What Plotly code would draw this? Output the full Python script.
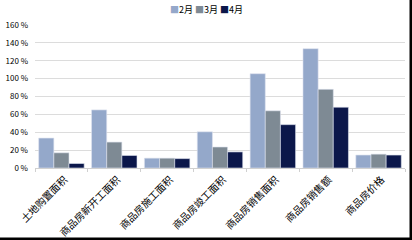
import plotly.graph_objects as go

categories = ["土地购置面积", "商品房新开工面积", "商品房施工面积", "商品房竣工面积",
              "商品房销售面积", "商品房销售额", "商品房价格"]
feb = [33.5, 65, 11, 40.5, 105.5, 133.5, 14.5]
mar = [17, 29, 11, 23.5, 64, 88, 15.5]
apr = [5, 14, 10.5, 18, 48.5, 68, 14.5]
series_names = ["2月", "3月", "4月"]
colors = ["#94A8CA", "#7E8A94", "#0B174A"]
ytick_vals = [0, 20, 40, 60, 80, 100, 120, 140, 160]
ytick_text = [f"{v} %" for v in ytick_vals]

fig = go.Figure()
for name, vals, c in zip(series_names, [feb, mar, apr], colors):
    fig.add_trace(go.Bar(x=categories, y=vals, name=name,
                         marker=dict(color=c, line=dict(color="#DDE3EE", width=0.6))))

W, H = 412, 240
L, R, T, B = 35, 7, 25, 72
pw, ph = W - L - R, H - T - B

fig.update_layout(
    width=W, height=H,
    margin=dict(l=L, r=R, t=T, b=B, autoexpand=False),
    paper_bgcolor="white", plot_bgcolor="white",
    barmode="group", bargap=0.14, bargroupgap=0,
    font=dict(family="Noto Sans CJK SC, DejaVu Sans", size=9, color="black"),
    showlegend=False,
)

# compact legend as text (Excel-like small squares)
legend_html = "&nbsp;".join(
    f"<span style='color:{c}'>■</span>{n}" for n, c in zip(series_names, colors))
fig.add_annotation(text=legend_html, xref="paper", yref="paper",
                   x=(168 - L) / pw, xanchor="left",
                   y=1 + (T - 10) / ph, yanchor="middle",
                   showarrow=False, font=dict(size=9, color="black"))

fig.update_xaxes(tickangle=-45, tickfont=dict(size=10), automargin=False,
                 showline=True, linecolor="#D0D0D0", linewidth=1,
                 ticks="outside", ticklen=3, tickcolor="#D0D0D0",
                 tickson="boundaries", showgrid=False,
                 ticklabelshift=3, ticklabelstandoff=1)
fig.update_yaxes(range=[0, 160], tickvals=ytick_vals, ticktext=ytick_text,
                 tickfont=dict(size=8), showgrid=True, gridcolor="#DCDCDC",
                 gridwidth=1, zeroline=False, showline=False, ticks="",
                 ticklabelstandoff=6, automargin=False)

# frame lines at right and bottom edges of the picture
fig.add_shape(type="line", xref="paper", yref="paper",
              x0=(411 - L) / pw, x1=(411 - L) / pw, y0=-(H - T - ph) / ph, y1=(T) / ph + 1,
              line=dict(color="black", width=3))
fig.add_shape(type="line", xref="paper", yref="paper",
              x0=-L / pw, x1=(W - L) / pw, y0=-(239 - T - ph) / ph, y1=-(239 - T - ph) / ph,
              line=dict(color="black", width=3))

fig.write_html("out.html")
